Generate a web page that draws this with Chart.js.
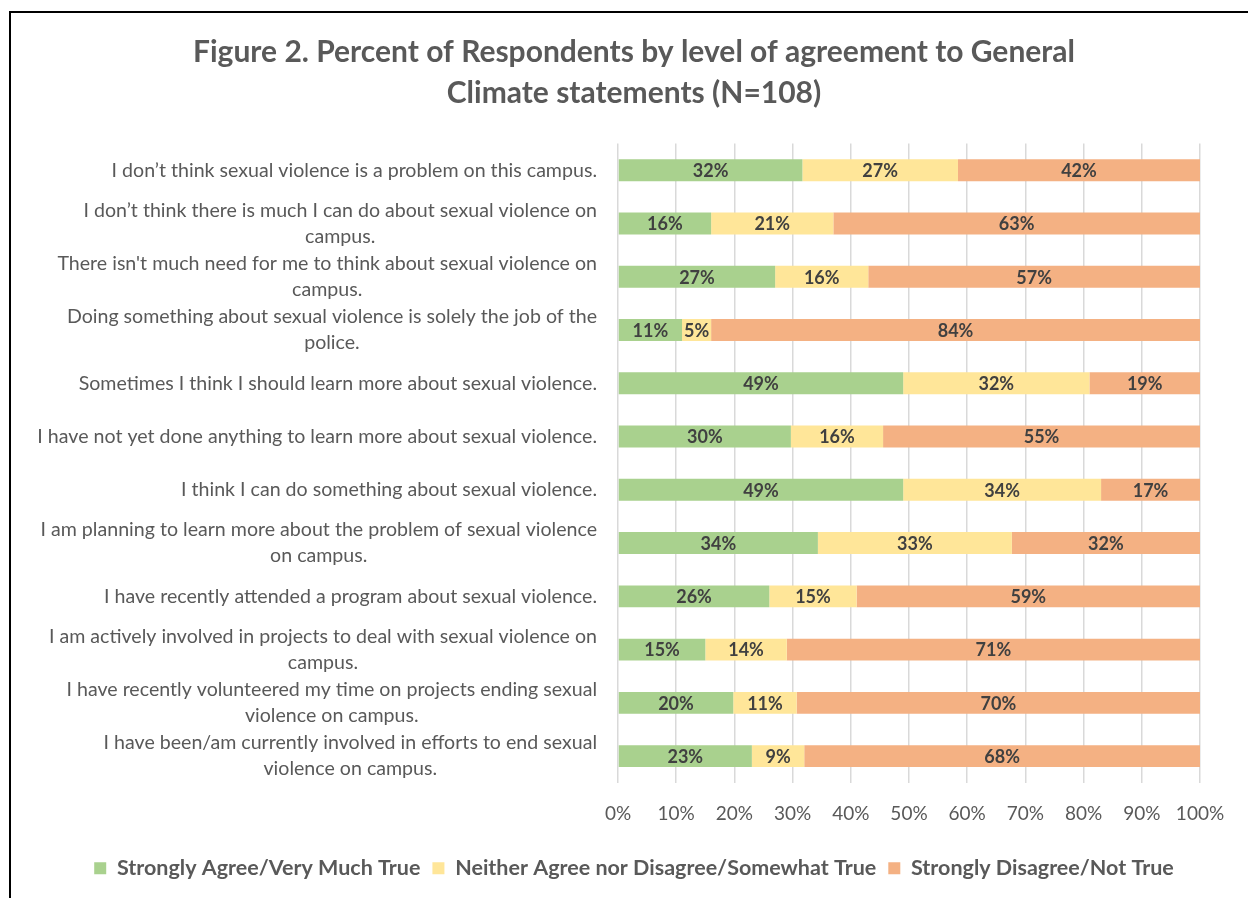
<!DOCTYPE html>
<html><head><meta charset="utf-8">
<script src="https://cdn.jsdelivr.net/npm/chart.js@4/dist/chart.umd.min.js"></script>
<style>
html,body{margin:0;padding:0;background:#fff;overflow:hidden;width:1248px;height:898px;}
#wrap{position:absolute;left:9px;top:11px;width:1250px;height:900px;border-left:2px solid #000;border-top:2px solid #000;}
canvas{display:block;}
</style></head><body>
<div id="wrap"><canvas id="c" width="1250" height="900"></canvas></div>
<script>
const categories = [
  "I don\u2019t think sexual violence is a problem on this campus.",
  ["I don\u2019t think there is much I can do about sexual violence on", "campus."],
  ["There isn't much need for me to think about sexual violence on", "campus."],
  ["Doing something about sexual violence is solely the job of the", "police."],
  "Sometimes I think I should learn more about sexual violence.",
  "I have not yet done anything to learn more about sexual violence.",
  "I think I can do something about sexual violence.",
  ["I am planning to learn more about the problem of sexual violence", "on campus."],
  "I have recently attended a program about sexual violence.",
  ["I am actively involved in projects to deal with sexual violence on", "campus."],
  ["I have recently volunteered my time on projects ending sexual", "violence on campus."],
  ["I have been/am currently involved in efforts to end sexual", "violence on campus."]
];
const seriesNames = ["Strongly Agree/Very Much True", "Neither Agree nor Disagree/Somewhat True", "Strongly Disagree/Not True"];
const stronglyAgree = [32, 16, 27, 11, 49, 30, 49, 34, 26, 15, 20, 23];
const neither       = [27, 21, 16,  5, 32, 16, 34, 33, 15, 14, 11,  9];
const stronglyDisagree = [42, 63, 57, 84, 19, 55, 17, 32, 59, 71, 70, 68];
const xTicks = [0,10,20,30,40,50,60,70,80,90,100];
const titleLines = ["Figure 2. Percent of Respondents by level of agreement to General", "Climate statements (N=108)"];
const colors = ["#A9D18E", "#FFE699", "#F4B183"];

const raw = [stronglyAgree, neither, stronglyDisagree];
const totals = categories.map((_, i) => raw.reduce((s, a) => s + a[i], 0));
const datasets = raw.map((arr, k) => ({
  label: seriesNames[k],
  data: arr.map((v, i) => v / totals[i] * 100),
  rawValues: arr,
  backgroundColor: colors[k],
  borderWidth: 0,
  barPercentage: 0.41,
  categoryPercentage: 1.0
}));

const PAD_LEFT = 57;
const PLOT_LEFT = 607;

const yLabelPlugin = {
  id: 'ylabels',
  afterDraw(chart) {
    const { ctx } = chart;
    const y = chart.scales.y;
    ctx.save();
    ctx.font = '19.6px Lato';
    ctx.fillStyle = '#595959';
    ctx.textAlign = 'center';
    ctx.textBaseline = 'middle';
    const right = chart.chartArea.left - 21;
    const lh = 26;
    categories.forEach((lab, i) => {
      const lines = Array.isArray(lab) ? lab : [lab];
      const w = Math.max(...lines.map(l => ctx.measureText(l).width));
      const cx = right - w / 2;
      const yc = y.getPixelForValue(i);
      lines.forEach((l, j) => ctx.fillText(l, cx, yc + (j - (lines.length - 1) / 2) * lh));
    });
    ctx.restore();
  }
};

const dataLabelPlugin = {
  id: 'datalabels',
  afterDatasetsDraw(chart) {
    const { ctx } = chart;
    ctx.save();
    ctx.font = 'bold 18px Lato';
    ctx.fillStyle = '#404040';
    ctx.textAlign = 'center';
    ctx.textBaseline = 'middle';
    chart.data.datasets.forEach((ds, k) => {
      const meta = chart.getDatasetMeta(k);
      meta.data.forEach((bar, i) => {
        const cx = (bar.x + bar.base) / 2;
        ctx.fillText(ds.rawValues[i] + '%', cx, bar.y + 1);
      });
    });
    ctx.restore();
  }
};

new Chart(document.getElementById('c'), {
  type: 'bar',
  data: { labels: categories, datasets },
  plugins: [yLabelPlugin, dataLabelPlugin],
  options: {
    indexAxis: 'y',
    responsive: false,
    animation: false,
    layout: { padding: { left: PAD_LEFT, right: 61, top: 0, bottom: 24 } },
    scales: {
      x: {
        stacked: true, min: 0, max: 100,
        afterBuildTicks(s) { s.ticks = xTicks.map(v => ({ value: v })); },
        ticks: { callback: v => v + '%', font: { family: 'Lato', size: 19 }, color: '#595959', padding: 20, maxRotation: 0 },
        grid: { color: '#D9D9D9', lineWidth: 1.5, drawTicks: false },
        border: { display: false }
      },
      y: {
        stacked: true,
        ticks: { display: false },
        grid: { display: false },
        border: { display: false },
        afterFit(s) { s.width = PLOT_LEFT - PAD_LEFT; }
      }
    },
    plugins: {
      title: {
        display: true, text: titleLines,
        font: { family: 'Lato', size: 30, weight: 'bold', lineHeight: 1.36 },
        color: '#595959',
        padding: { top: 19, bottom: 30 }
      },
      legend: {
        position: 'bottom',
        labels: { boxWidth: 12, boxHeight: 12, padding: 12, color: '#595959', font: { family: 'Lato', size: 21.5, weight: 'bold' } }
      },
      tooltip: { enabled: false }
    }
  }
});
</script>
</body></html>
